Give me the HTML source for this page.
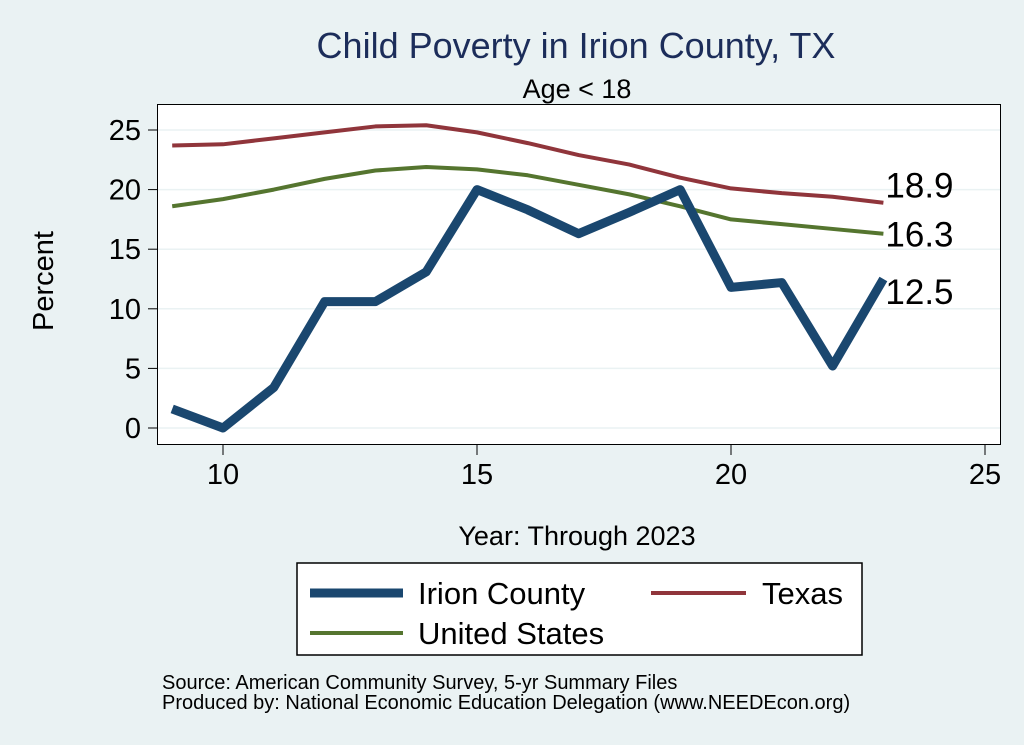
<!DOCTYPE html>
<html><head><meta charset="utf-8"><style>
body{margin:0;background:#eaf2f3;}
svg{display:block;font-family:"Liberation Sans",Arial,sans-serif;}
</style></head><body>
<svg width="1024" height="745" viewBox="0 0 1024 745">
<rect x="0" y="0" width="1024" height="745" fill="#eaf2f3"/>
<rect x="157.5" y="104.5" width="843" height="340" fill="#ffffff" stroke="#000" stroke-width="1"/>
<text x="576" y="58" text-anchor="middle" font-size="36" fill="#1c2d5a">Child Poverty in Irion County, TX</text>
<text x="577" y="98" text-anchor="middle" font-size="27" fill="#000">Age &lt; 18</text>
<g id="grid"></g>
<g id="axes"></g>
<g id="series"></g>
<text x="53" y="281" text-anchor="middle" font-size="29" transform="rotate(-90 53 281)">Percent</text>
<text x="577" y="545" text-anchor="middle" font-size="27">Year: Through 2023</text>
<g>
<rect x="297" y="563" width="565" height="92" fill="#fff" stroke="#000" stroke-width="1.5"/>
<line x1="310" y1="593" x2="403" y2="593" stroke="#1a476f" stroke-width="9"/>
<text x="418" y="604" font-size="31">Irion County</text>
<line x1="651" y1="593" x2="746" y2="593" stroke="#90353b" stroke-width="4"/>
<text x="762" y="604" font-size="31">Texas</text>
<line x1="310" y1="633" x2="403" y2="633" stroke="#55752f" stroke-width="4"/>
<text x="418" y="644" font-size="31">United States</text>
</g>
<text x="162" y="689" font-size="20">Source: American Community Survey, 5-yr Summary Files</text>
<text x="162" y="709" font-size="20">Produced by: National Economic Education Delegation (www.NEEDEcon.org)</text>
</svg>
<script>
const years=[9,10,11,12,13,14,15,16,17,18,19,20,21,22,23];
const irion=[1.6,0,3.4,10.6,10.6,13.1,20,18.3,16.3,18.1,20,11.8,12.2,5.2,12.5];
const texas=[23.7,23.8,24.3,24.8,25.3,25.4,24.8,23.9,22.9,22.1,21.0,20.1,19.7,19.4,18.9];
const us=[18.6,19.2,20.0,20.9,21.6,21.9,21.7,21.2,20.4,19.6,18.6,17.5,17.1,16.7,16.3];
const xTicks=[10,15,20,25];
const yTicks=[0,5,10,15,20,25];
const NS="http://www.w3.org/2000/svg";
function xs(v){return 223+(v-10)*50.8;}
function ys(v){return 428-v*11.92;}
function mk(t,a,p){const e=document.createElementNS(NS,t);for(const k in a)e.setAttribute(k,a[k]);document.getElementById(p).appendChild(e);return e;}
yTicks.forEach(v=>{
 const g=mk('line',{x1:158,x2:1000,y1:ys(v),y2:ys(v),stroke:'#eaf2f3','stroke-width':1.5},'grid');
 
 
 const t=mk('line',{x1:148,x2:158,y1:ys(v),y2:ys(v),stroke:'#000','stroke-width':1},'axes');
 
 
 const l=mk('text',{x:141,y:ys(v)+10,'text-anchor':'end','font-size':29},'axes');l.textContent=v;
 
 
});
xTicks.forEach(v=>{
 const t=mk('line',{x1:xs(v),x2:xs(v),y1:445,y2:455,stroke:'#000','stroke-width':1},'axes');
 
 
 const l=mk('text',{x:xs(v),y:484,'text-anchor':'middle','font-size':29},'axes');l.textContent=v;
 
 
});
function line(d,c,w,name){
 const p=mk('polyline',{points:years.map((y,i)=>xs(y)+','+ys(d[i])).join(' '),fill:'none',stroke:c,'stroke-width':w,'stroke-linejoin':'round'},'series');
 
 
}
line(texas,'#90353b',4,'texas-line');
line(us,'#55752f',4,'us-line');
line(irion,'#1a476f',9,'irion-line');
function lab(d,name,dy){
 const n=d.length-1;
 const t=mk('text',{x:xs(years[n])+2,y:ys(d[n])+dy,'font-size':35},'series');
 t.textContent=d[n].toFixed(1);
 
 
}
lab(texas,'texas-end-label',-5);
lab(us,'us-end-label',13);
lab(irion,'irion-end-label',25);
</script>
</body></html>
